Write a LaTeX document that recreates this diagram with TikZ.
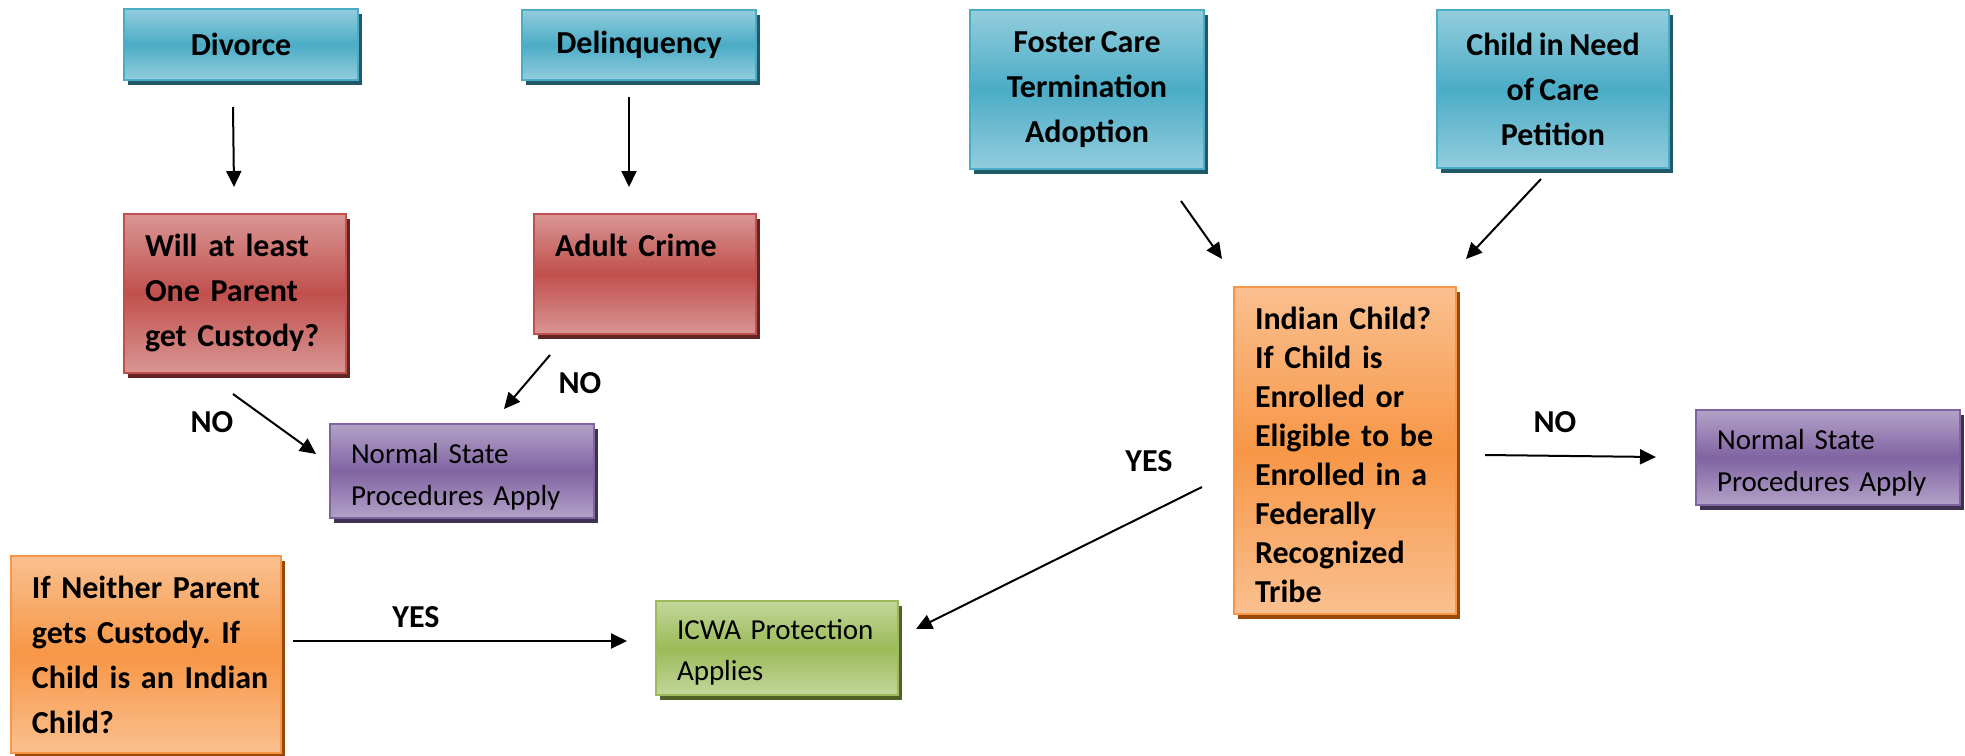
\documentclass[tikz,border=0pt]{standalone}
\usepackage{fontspec}
\setmainfont{Carlito}[WordSpace=0.75]
\usetikzlibrary{arrows.meta,shadows,calc}
\frenchspacing

\definecolor{bluelight}{HTML}{93CDDD}
\definecolor{bluedark}{HTML}{4BACC6}
\definecolor{blueshade}{HTML}{215968}
\definecolor{redlight}{HTML}{D99694}
\definecolor{reddark}{HTML}{C0504D}
\definecolor{redshade}{HTML}{632523}
\definecolor{purplelight}{HTML}{B3A2C7}
\definecolor{purpledark}{HTML}{8064A2}
\definecolor{purpleshade}{HTML}{3F3151}
\definecolor{orangelight}{HTML}{FAC090}
\definecolor{orangedark}{HTML}{F79646}
\definecolor{orangeshade}{HTML}{984807}
\definecolor{greenlight}{HTML}{C3D69B}
\definecolor{greendark}{HTML}{9BBB59}
\definecolor{greenshade}{HTML}{4F6228}

\newcommand{\boxlines}[1]{\begin{tabular}[t]{@{}l@{}}#1\end{tabular}}

\begin{document}
\begin{tikzpicture}[x=0.5pt, y=-0.5pt,
	card/.style={rectangle, anchor=north west, line width=1pt, inner xsep=10.5pt, inner ysep=0pt},
	court/.style={card, draw=bluedark, top color=bluelight, bottom color=bluelight, middle color=bluedark, drop shadow={shadow xshift=1.75pt, shadow yshift=-2.5pt, fill=blueshade, opacity=1}, align=center, font=\bfseries\fontsize{16}{22.5}\selectfont},
	redq/.style={card, draw=reddark, top color=redlight, bottom color=redlight, middle color=reddark, drop shadow={shadow xshift=1.75pt, shadow yshift=-2.5pt, fill=redshade, opacity=1}, align=left, font=\bfseries\fontsize{16}{22.5}\selectfont},
	orangeq/.style={card, draw=orangedark, top color=orangelight, bottom color=orangelight, middle color=orangedark, drop shadow={shadow xshift=1.75pt, shadow yshift=-2.5pt, fill=orangeshade, opacity=1}, align=left, font=\bfseries\fontsize{16}{22.5}\selectfont},
	purplebox/.style={card, draw=purpledark, top color=purplelight, bottom color=purplelight, middle color=purpledark, drop shadow={shadow xshift=1.75pt, shadow yshift=-2.5pt, fill=purpleshade, opacity=1}, align=left, font=\fontsize{14.5}{21}\selectfont},
	greenbox/.style={card, draw=greendark, top color=greenlight, bottom color=greenlight, middle color=greendark, drop shadow={shadow xshift=1.75pt, shadow yshift=-2.5pt, fill=greenshade, opacity=1}, align=left, font=\fontsize{14.5}{20.5}\selectfont},
	lbl/.style={inner sep=0pt, font=\bfseries\fontsize{16}{19}\selectfont},
	arr/.style={line width=1pt, -{Triangle[length=8pt, width=7.5pt]}}]
	\useasboundingbox[fill=white] (0,0) rectangle (1965,755);

	\node[court, minimum width=117pt, minimum height=35.5pt] (divorce) at (123,8) {Divorce};
	\node[court, minimum width=117pt, minimum height=35pt] (delinquency) at (521,9) {Delinquency};
	\node[court, minimum width=117pt, minimum height=79.5pt] (foster) at (969,9) {Foster Care\\ Termination\\ Adoption};
	\node[court, minimum width=116pt, minimum height=79pt] (petition) at (1436,9) {Child in Need\\ of Care\\ Petition};
	\node[redq, text width=90pt, text height=21pt, text depth=58.5pt] (custody) at (123,213) {\boxlines{Will at least\\ One Parent\\ get Custody?}};
	\node[redq, text width=90pt, text height=21pt, text depth=39pt] (adult) at (533,213) {\boxlines{Adult Crime}};
	\node[purplebox, text width=111pt, text height=19.5pt, text depth=27.5pt] (normal1) at (329,423) {\boxlines{Normal State\\ Procedures Apply}};
	\node[orangeq, text width=114pt, text height=21pt, text depth=77.5pt] (neither) at (10,555) {\boxlines{If Neither Parent\\ gets Custody. If\\ Child is an Indian\\ Child?}};
	\node[greenbox, text width=100pt, text height=19pt, text depth=28pt] (icwa) at (655,600) {\boxlines{ICWA Protection\\ Applies}};
	\node[orangeq, text width=90pt, text height=21pt, text depth=142.5pt, font=\bfseries\fontsize{16}{19.5}\selectfont] (indian) at (1233,286) {\boxlines{Indian Child?\\ If Child is\\ Enrolled or\\ Eligible to be\\ Enrolled in a\\ Federally\\ Recognized\\ Tribe}};
	\node[purplebox, text width=111pt, text height=19.5pt, text depth=28pt] (normal2) at (1695,409) {\boxlines{Normal State\\ Procedures Apply}};

	\node[lbl] (no1) at (212,422) {NO};
	\node[lbl] (no2) at (580,383) {NO};
	\node[lbl] (yes1) at (416,617) {YES};
	\node[lbl] (yes2) at (1149,461) {YES};
	\node[lbl] (no3) at (1555,422) {NO};

	\draw[arr] ($(divorce.south)+(-8,26)$) -- ($(custody.north)+(-1,-26)$);
	\draw[arr] ($(delinquency.south)+(-10,16)$) -- ($(adult.north)+(-16,-26)$);
	\draw[arr] ($(adult.south west)+(17,20)$) -- ($(normal1.north)+(42,-14)$);
	\draw[arr] ($(custody.south)+(-2,20)$) -- ($(normal1.west)+(-13,-17)$);
	\draw[arr] ($(neither.east)+(11,-13.5)$) -- ($(icwa.west)+(-28,-7)$);
	\draw[arr] ($(foster.south east)+(-24,31)$) -- ($(indian.north west)+(-11,-27)$);
	\draw[arr] ($(petition.south)+(-12,10)$) -- ($(indian.north east)+(9,-27)$);
	\draw[arr] ($(indian.west)+(-31,36.5)$) -- ($(icwa.east)+(17,-19)$);
	\draw[arr] ($(indian.east)+(28,4.5)$) -- ($(normal2.west)+(-39,-0.5)$);
\end{tikzpicture}
\end{document}
